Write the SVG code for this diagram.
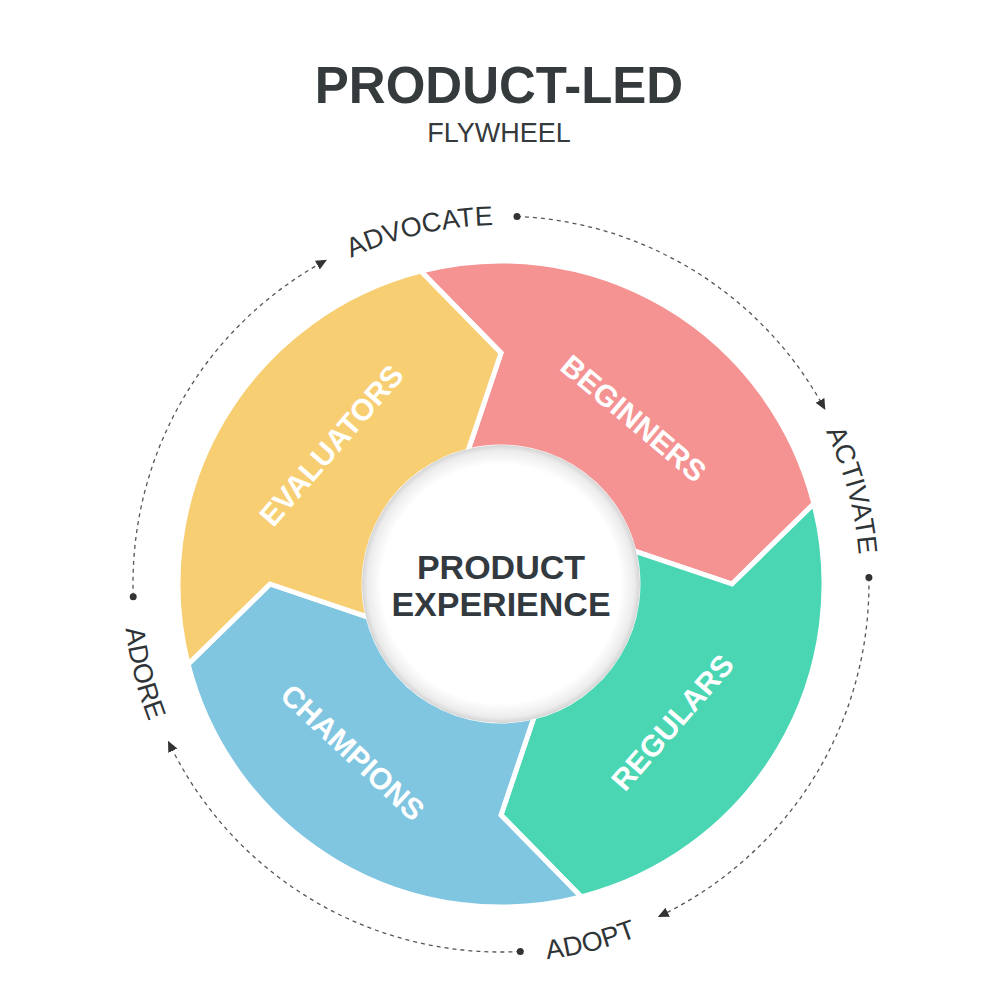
<svg xmlns="http://www.w3.org/2000/svg" width="1000" height="1000" viewBox="0 0 1000 1000">
<style>
.seg{stroke:#fff;stroke-width:5;stroke-linejoin:miter}
.lbl{font-family:"Liberation Sans",Arial,sans-serif;font-weight:bold;font-size:30px;fill:#fff;text-anchor:middle}
.ring{font-family:"Liberation Sans",Arial,sans-serif;font-size:27px;fill:#2f3437}
.dash{fill:none;stroke:#555;stroke-width:1.3;stroke-dasharray:4 4}
.dot{fill:#333}
</style>
<defs>
<radialGradient id="hole" cx="0.5" cy="0.5" r="0.5">
<stop offset="0.86" stop-color="#ffffff"/>
<stop offset="0.96" stop-color="#ececec"/>
<stop offset="1" stop-color="#d4d4d4"/>
</radialGradient>
<marker id="arr" markerUnits="userSpaceOnUse" markerWidth="14" markerHeight="12" refX="6" refY="5" orient="auto">
<path d="M0,0 L11,5 L0,10 Z" fill="#333"/>
</marker>
<path id="cw" d="M142,584 A359,359 0 0 1 860,584 A359,359 0 0 1 501,943"/>
<path id="ccw" d="M501,206 A378,378 0 0 0 123,584 A378,378 0 0 0 879,584"/>
</defs>
<rect width="1000" height="1000" fill="#fff"/>
<g id="title">
<text x="499" y="103" text-anchor="middle" font-family="Liberation Sans, Arial, sans-serif" font-weight="bold" font-size="51" fill="#353a3d">PRODUCT-LED</text>
<text x="499" y="142" text-anchor="middle" font-family="Liberation Sans, Arial, sans-serif" font-size="27" fill="#353a3d">FLYWHEEL</text>
</g>
<g id="connectors">
<path class="dash" d="M517.0,216.4 A368,368 0 0 1 822.9,405.6" marker-end="url(#arr)"/>
<path class="dash" d="M868.9,577.6 A368,368 0 0 1 662.3,914.8" marker-end="url(#arr)"/>
<path class="dash" d="M520.3,951.5 A368,368 0 0 1 170.2,745.3" marker-end="url(#arr)"/>
<path class="dash" d="M133.2,596.8 A368,368 0 0 1 322.6,262.1" marker-end="url(#arr)"/>
<circle class="dot" cx="517.0" cy="216.4" r="3.5"/>
<circle class="dot" cx="868.9" cy="577.6" r="3.5"/>
<circle class="dot" cx="520.3" cy="951.5" r="3.5"/>
<circle class="dot" cx="133.2" cy="596.8" r="3.5"/>
</g>
<g id="ring-labels">
<text class="ring"><textPath href="#cw" startOffset="482.4" text-anchor="middle">ADVOCATE</textPath></text>
<text class="ring"><textPath href="#cw" startOffset="1033.8" text-anchor="middle">ACTIVATE</textPath></text>
<text class="ring"><textPath href="#ccw" startOffset="1279.9" text-anchor="middle">ADOPT</textPath></text>
<text class="ring"><textPath href="#ccw" startOffset="686.2" text-anchor="middle">ADORE</textPath></text>
</g>
<g id="beginners">
<path class="seg" fill="#f59292" d="M420.7,271.1 A323,323 0 0 1 813.9,503.7 L732,584 L633.9,550.9 A137,137 0 0 0 467.9,451.1 L501,353 Z"/>
<text class="lbl" transform="translate(634,418) rotate(40)" y="11">BEGINNERS</text>
</g>
<g id="regulars">
<path class="seg" fill="#4ad6b3" d="M813.9,503.7 A323,323 0 0 1 581.3,896.9 L501,815 L534.1,716.9 A137,137 0 0 0 633.9,550.9 L732,584 Z"/>
<text class="lbl" transform="translate(672,722) rotate(-49)" y="11">REGULARS</text>
</g>
<g id="champions">
<path class="seg" fill="#80c6e1" d="M581.3,896.9 A323,323 0 0 1 188.1,664.3 L270,584 L368.1,617.1 A137,137 0 0 0 534.1,716.9 L501,815 Z"/>
<text class="lbl" transform="translate(353,752) rotate(43)" y="11">CHAMPIONS</text>
</g>
<g id="evaluators">
<path class="seg" fill="#f7cf72" d="M188.1,664.3 A323,323 0 0 1 420.7,271.1 L501,353 L467.9,451.1 A137,137 0 0 0 368.1,617.1 L270,584 Z"/>
<text class="lbl" transform="translate(331,445) rotate(-49)" y="11">EVALUATORS</text>
</g>
<g id="product-experience">
<circle cx="501" cy="584" r="139" fill="url(#hole)"/>
<text x="501" y="579" text-anchor="middle" font-family="Liberation Sans, Arial, sans-serif" font-weight="bold" font-size="34" fill="#333a3f">PRODUCT</text>
<text x="501" y="616" text-anchor="middle" font-family="Liberation Sans, Arial, sans-serif" font-weight="bold" font-size="34" fill="#333a3f">EXPERIENCE</text>
</g>
</svg>
